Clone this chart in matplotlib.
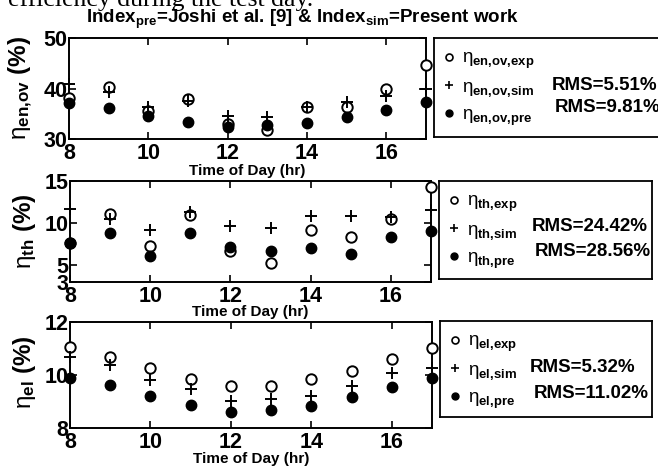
import matplotlib
matplotlib.use("Agg")
import matplotlib.pyplot as plt
from matplotlib.lines import Line2D

plt.rcParams['font.family'] = ['Liberation Sans', 'DejaVu Sans']
plt.rcParams['mathtext.fontset'] = 'custom'
plt.rcParams['mathtext.rm'] = 'Liberation Sans'
plt.rcParams['mathtext.it'] = 'Liberation Sans:italic'
plt.rcParams['mathtext.bf'] = 'Liberation Sans:bold'

hours = [8, 9, 10, 11, 12, 13, 14, 15, 16, 17]

ov_exp = [38.1, 40.3, 35.6, 38.0, 33.0, 31.7, 36.4, 36.4, 39.9, 44.7]
ov_sim = [41.0, 39.4, 36.3, 37.5, 34.6, 34.4, 36.4, 37.4, 38.5, 39.9]
ov_pre = [37.2, 36.2, 34.6, 33.3, 32.4, 32.7, 33.1, 34.4, 35.8, 37.3]

th_exp = [7.6, 11.0, 7.2, 10.9, 6.6, 5.2, 9.2, 8.35, 10.5, 14.3]
th_sim = [11.6, 10.4, 9.2, 11.3, 9.6, 9.4, 10.8, 10.8, 10.7, 11.5]
th_pre = [7.6, 8.8, 6.1, 8.8, 7.1, 6.65, 7.0, 6.25, 8.35, 9.0]

el_exp = [11.03, 10.68, 10.26, 9.83, 9.59, 9.59, 9.84, 10.14, 10.58, 11.0]
el_sim = [10.68, 10.37, 9.80, 9.45, 9.02, 9.07, 9.20, 9.59, 10.06, 10.24]
el_pre = [9.89, 9.60, 9.20, 8.86, 8.60, 8.67, 8.82, 9.15, 9.52, 9.89]

xticks = [8, 10, 12, 14, 16]
yticks = [[30, 40, 50], [3, 5, 10, 15], [8, 10, 12]]
ylims = [(30, 50), (3, 15), (8, 12)]

ylabels = [r"$\mathrm{η}_{\mathbf{en{,}ov}}$ (%)", r"$\mathrm{η}_{\mathbf{th}}$ (%)",
           r"$\mathrm{η}_{\mathbf{el}}$ (%)"]
leg_labels = [
    [r"$\mathrm{η}_{\mathbf{en{,}ov{,}exp}}$", r"$\mathrm{η}_{\mathbf{en{,}ov{,}sim}}$", r"$\mathrm{η}_{\mathbf{en{,}ov{,}pre}}$"],
    [r"$\mathrm{η}_{\mathbf{th{,}exp}}$", r"$\mathrm{η}_{\mathbf{th{,}sim}}$", r"$\mathrm{η}_{\mathbf{th{,}pre}}$"],
    [r"$\mathrm{η}_{\mathbf{el{,}exp}}$", r"$\mathrm{η}_{\mathbf{el{,}sim}}$", r"$\mathrm{η}_{\mathbf{el{,}pre}}$"],
]
rms_sim = ["RMS=5.51%", "RMS=24.42%", "RMS=5.32%"]
rms_pre = ["RMS=9.81%", "RMS=28.56%", "RMS=11.02%"]

series = [(ov_exp, ov_sim, ov_pre), (th_exp, th_sim, th_pre), (el_exp, el_sim, el_pre)]

W, H = 658, 466
fig = plt.figure(figsize=(W / 100, H / 100), dpi=100)


def rect(x0, y0, x1, y1):
    return [x0 / W, 1 - y1 / H, (x1 - x0) / W, (y1 - y0) / H]


axes_px = [(69, 38.3, 426, 139), (70, 180.7, 431, 281.7), (70, 321.7, 432, 427.7)]
leg_px = [(434, 38, 668, 137), (439, 181, 652, 279), (440, 321, 652, 417)]
ylab_px = [(21, 88), (24, 231), (24, 372)]
xlab_y = [171, 312, 459]
rms_pos = [((552, 85), (555, 108)), ((532, 227), (535, 252)), ((530, 368), (534, 393))]

for i in range(3):
    ax = fig.add_axes(rect(*axes_px[i]))
    e, s, p = series[i]
    ax.plot(hours, e, linestyle='none', marker='o', ms=7.5, mfc='white', mec='black', mew=1.4, clip_on=False, zorder=3)
    ax.plot(hours, s, linestyle='none', marker='+', ms=9, mec='black', mew=1.4, clip_on=False, zorder=3)
    ax.plot(hours, p, linestyle='none', marker='o', ms=7.5, mfc='black', mec='black', clip_on=False, zorder=3)
    ax.set_xlim(8, 17)
    ax.set_ylim(*ylims[i])
    ax.set_xticks(xticks)
    ax.set_yticks(yticks[i])
    ax.tick_params(direction='in', length=5, width=1.2, top=True, right=True,
                   labelsize=15.5, pad=1)
    ax.tick_params(axis='x', pad=3)
    for lab in ax.get_xticklabels() + ax.get_yticklabels():
        lab.set_fontweight('bold')
    for sp in ax.spines.values():
        sp.set_linewidth(1.4)
    fig.text(ylab_px[i][0] / W, 1 - ylab_px[i][1] / H, ylabels[i], rotation=90,
             ha='center', va='center', fontsize=17.5, fontweight='bold')
    cx = (axes_px[i][0] + axes_px[i][2]) / 2
    fig.text(cx / W, 1 - xlab_y[i] / H, "Time of Day (hr)", ha='center', va='center',
             fontsize=11, fontweight='bold')

    lax = fig.add_axes(rect(*leg_px[i]))
    lax.set_xticks([])
    lax.set_yticks([])
    for sp in lax.spines.values():
        sp.set_linewidth(1.3)
    hs = [Line2D([], [], linestyle='none', marker='o', ms=5, mfc='white', mec='black', mew=1.2),
          Line2D([], [], linestyle='none', marker='+', ms=6, mec='black', mew=1.2),
          Line2D([], [], linestyle='none', marker='o', ms=5, mfc='black', mec='black')]
    lw = leg_px[i][2] - leg_px[i][0]
    lax.legend(hs, leg_labels[i], loc='upper left', bbox_to_anchor=(-5.0 / lw, 1.0),
               frameon=False, fontsize=13.5, handlelength=0.8, handletextpad=0.3,
               labelspacing=0.4, borderaxespad=0.25)
    for (tx, ty), t in zip(rms_pos[i], (rms_sim[i], rms_pre[i])):
        fig.text(tx / W, 1 - ty / H, t, ha='left', va='center', fontsize=13.5, fontweight='bold')

fig.text(8 / W, 1 - 6 / H, "efficiency during the test day.", family='Liberation Serif',
         fontsize=18.5, ha='left', va='baseline')
fig.text(86 / W, 1 - 23.3 / H,
         r"Index$_{\mathbf{pre}}$=Joshi et al. [9] & Index$_{\mathbf{sim}}$=Present work",
         ha='left', va='baseline', fontsize=13.5, fontweight='bold')

fig.savefig("out.png", dpi=100)
